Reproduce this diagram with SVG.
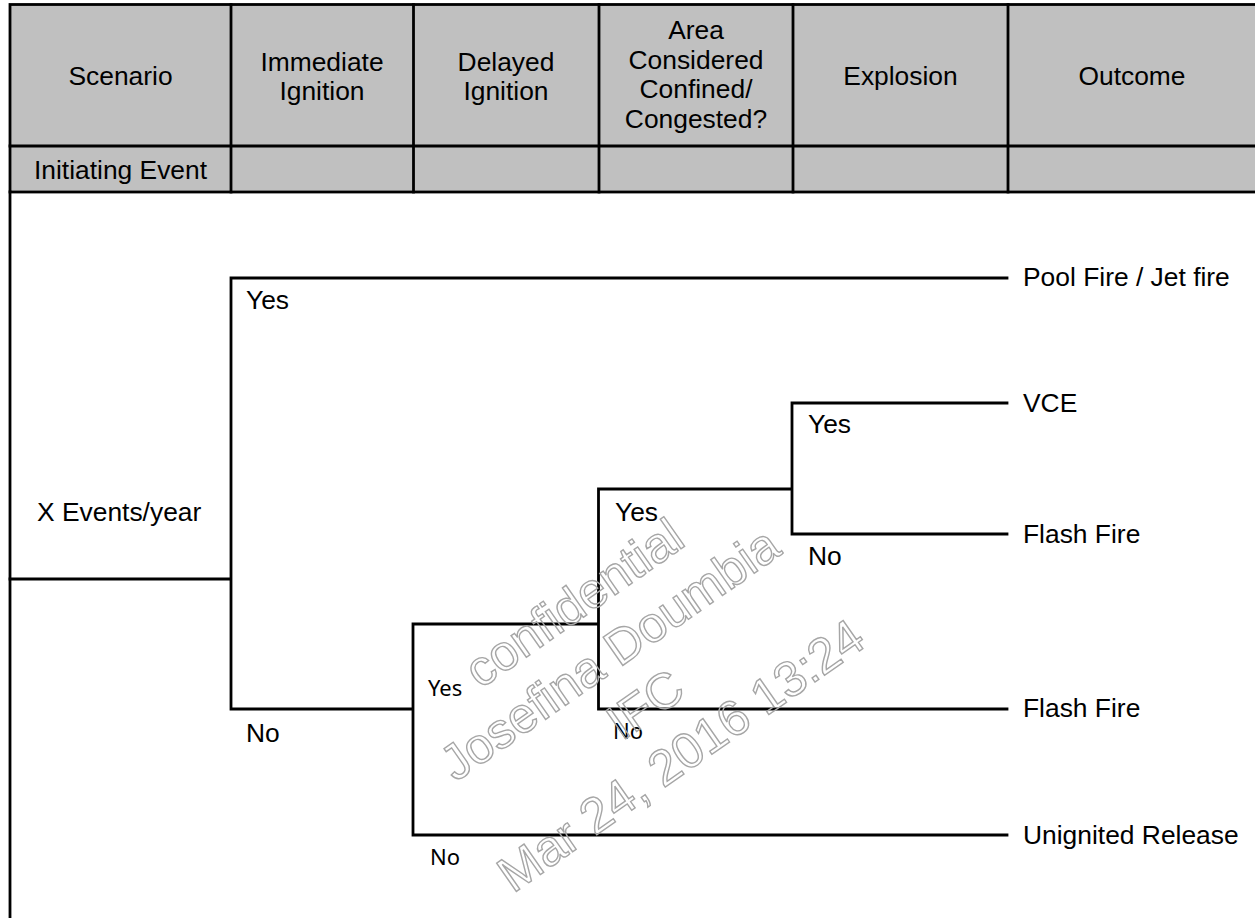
<svg xmlns="http://www.w3.org/2000/svg" width="1255" height="918" viewBox="0 0 1255 918">
<style>
.t{font-family:"Liberation Sans",Arial,sans-serif;font-size:26.4px;fill:#000}
.c{text-anchor:middle}
.s{font-family:"Noto Sans","Open Sans",sans-serif;font-size:22px;fill:#000}
.ln{stroke:#000;stroke-width:2.8;fill:none;stroke-linecap:square}
.hd{fill:#c0c0c0;stroke:#000;stroke-width:2.8}
.wm{font-family:"Liberation Sans",Arial,sans-serif;font-size:50px;fill:none;stroke:#a6a6a6;stroke-width:1.4;text-anchor:middle}
</style>
<rect width="1255" height="918" fill="#fff"/>
<g id="table">
<rect x="10" y="4.5" width="1250" height="187.5" class="hd"/>
<line x1="10" y1="146" x2="1260" y2="146" class="ln"/>
<line x1="231" y1="4.5" x2="231" y2="192" class="ln"/>
<line x1="413.5" y1="4.5" x2="413.5" y2="192" class="ln"/>
<line x1="599" y1="4.5" x2="599" y2="192" class="ln"/>
<line x1="793" y1="4.5" x2="793" y2="192" class="ln"/>
<line x1="1008" y1="4.5" x2="1008" y2="192" class="ln"/>
<line x1="10" y1="192" x2="10" y2="930" class="ln"/>
<text class="t c" x="120.5" y="85">Scenario</text>
<text class="t c" x="322" y="70.5">Immediate</text>
<text class="t c" x="322" y="100">Ignition</text>
<text class="t c" x="506" y="70.5">Delayed</text>
<text class="t c" x="506" y="100">Ignition</text>
<text class="t c" x="696" y="39">Area</text>
<text class="t c" x="696" y="68.5">Considered</text>
<text class="t c" x="696" y="98">Confined/</text>
<text class="t c" x="696" y="127.5">Congested?</text>
<text class="t c" x="900.5" y="85">Explosion</text>
<text class="t c" x="1132" y="85">Outcome</text>
<text class="t c" x="120.5" y="179">Initiating Event</text>
</g>
<g id="connectors">
<path class="ln" d="M10 579 H231 M231 278 V709 M231 278 H1007 M231 709 H413 M413 624 V835 M413 835 H1007 M413 624 H598.5 M598.5 489 V709 M598.5 709 H1007 M598.5 489 H792 M792 403 V534 M792 403 H1007 M792 534 H1007"/>
</g>
<g id="initiating-event"><text class="t" x="37" y="521">X Events/year</text></g>
<g id="immediate-yes"><text class="t" x="246" y="309">Yes</text></g>
<g id="immediate-no"><text class="t" x="246" y="742">No</text></g>
<g id="delayed-yes"><text class="s" x="428" y="696">Yes</text></g>
<g id="delayed-no"><text class="s" x="430" y="865">No</text></g>
<g id="area-yes"><text class="t" x="615" y="520.5">Yes</text></g>
<g id="area-no"><text class="s" x="613" y="739">No</text></g>
<g id="explosion-yes"><text class="t" x="808" y="433">Yes</text></g>
<g id="explosion-no"><text class="t" x="808" y="565">No</text></g>
<g id="outcome-pool-fire"><text class="t" x="1023" y="286">Pool Fire / Jet fire</text></g>
<g id="outcome-vce"><text class="t" x="1023" y="412">VCE</text></g>
<g id="outcome-flash-fire-1"><text class="t" x="1023" y="543">Flash Fire</text></g>
<g id="outcome-flash-fire-2"><text class="t" x="1023" y="717">Flash Fire</text></g>
<g id="outcome-unignited"><text class="t" x="1023" y="844">Unignited Release</text></g>
<g id="watermark" transform="translate(628,680) rotate(-35)">
<text class="wm" x="0" y="-77">confidential</text>
<text class="wm" x="0" y="-15">Josefina Doumbia</text>
<text class="wm" x="0" y="47">IFC</text>
<text class="wm" x="0" y="109">Mar 24, 2016 13:24</text>
</g>
</svg>
